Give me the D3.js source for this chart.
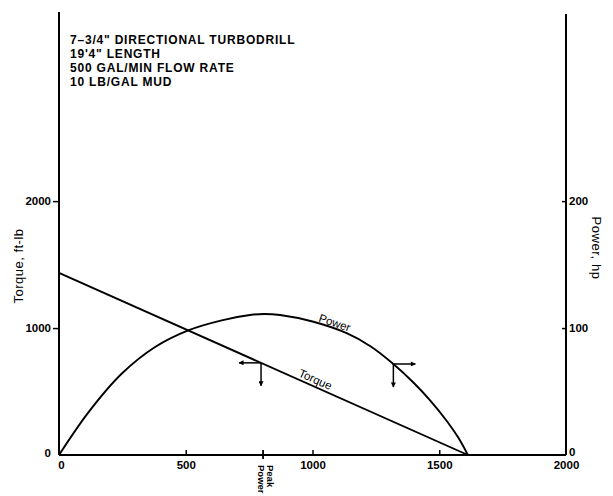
<!DOCTYPE html>
<html>
<head>
<meta charset="utf-8">
<script src="https://cdn.jsdelivr.net/npm/d3@7"></script>
<style>
  html, body { margin: 0; padding: 0; background: #fff; }
  svg { display: block; font-family: "Liberation Sans", Arial, sans-serif; }
</style>
</head>
<body>
<svg id="chart" width="613" height="496"></svg>
<script>
// ---- data ----
const rpmTicks = [0, 500, 1000, 1500, 2000];
const torqueTicks = [0, 1000, 2000];
const powerTicks = [0, 100, 200];

const torqueRpm = [0, 1613];
const torqueVals = [1435, 0];

const powerRpm  = [0, 116, 247, 379, 510, 642, 760, 810, 872, 1000, 1135, 1230, 1319, 1400, 1463, 1529, 1575, 1613];
const powerVals = [0, 33.6, 64.0, 85.1, 98.2, 106.1, 110.5, 111.1, 110.3, 105.2, 96.0, 85.5, 71.7, 56.7, 43.2, 27.0, 13.7, 0];

const titleLines = [
  "7\u20133/4\" DIRECTIONAL TURBODRILL",
  "19'4\" LENGTH",
  "500 GAL/MIN FLOW RATE",
  "10 LB/GAL MUD"
];
const peakPowerRpm = 805;
const torqueMarkerRpm = 797;   // marker on torque line
const powerMarkerRpm = 1319;   // marker on power curve
const torqueLabelRpm = 1000;
const powerLabelRpm = 1080;

// ---- scales ----
const svg = d3.select("#chart");
const x = d3.scaleLinear().domain([0, 2000]).range([59, 566]);
const yT = d3.scaleLinear().domain([0, 3490]).range([455, 12]);
const yP = d3.scaleLinear().domain([0, 349]).range([455, 12]);

const ink = "#000";

// arrow marker
const defs = svg.append("defs");
defs.append("marker")
  .attr("id", "arr")
  .attr("viewBox", "0 0 10 10")
  .attr("refX", 9).attr("refY", 5)
  .attr("markerWidth", 7).attr("markerHeight", 5)
  .attr("markerUnits", "userSpaceOnUse")
  .attr("orient", "auto")
  .append("path").attr("d", "M0,0 L10,5 L0,10 Z").attr("fill", ink);

// ---- axes ----
const xAxis = d3.axisBottom(x).tickValues(rpmTicks).tickSizeInner(-5).tickSizeOuter(0).tickPadding(6).tickFormat(d3.format("d"));
const gx = svg.append("g").attr("transform", "translate(0,455)").call(xAxis);
gx.select(".domain").remove();
gx.selectAll(".tick line").attr("stroke", ink).attr("stroke-width", 1.5)
  .filter(d => d === 0 || d === 2000).remove();
gx.selectAll(".tick text").attr("font-size", 11.5).attr("font-weight", "bold").attr("fill", ink)
  .attr("dx", d => d === 0 ? 2 : 0);

const yAxisL = d3.axisLeft(yT).tickValues(torqueTicks).tickSizeInner(6).tickSizeOuter(0).tickPadding(2).tickFormat(d3.format("d"));
const gyl = svg.append("g").attr("transform", "translate(59,0)").call(yAxisL);
gyl.select(".domain").remove();
gyl.selectAll(".tick line").attr("stroke", ink).attr("stroke-width", 1.5).filter(d => d === 0).remove();
gyl.selectAll(".tick text").attr("font-size", 11.5).attr("font-weight", "bold").attr("fill", ink)
  .attr("dy", d => d === 0 ? "0.15em" : "0.32em");

const yAxisR = d3.axisRight(yP).tickValues(powerTicks).tickSizeInner(-4).tickSizeOuter(0).tickPadding(3).tickFormat(d3.format("d"));
const gyr = svg.append("g").attr("transform", "translate(566,0)").call(yAxisR);
gyr.select(".domain").remove();
gyr.selectAll(".tick line").attr("stroke", ink).attr("stroke-width", 1.5).filter(d => d === 0).remove();
gyr.selectAll(".tick text").attr("font-size", 11.5).attr("font-weight", "bold").attr("fill", ink)
  .attr("dy", d => d === 0 ? "0.05em" : "0.32em");

// axis lines
svg.append("line").attr("x1", x(0)).attr("x2", x(2000)).attr("y1", yT(0)).attr("y2", yT(0))
  .attr("stroke", ink).attr("stroke-width", 2.2);
svg.append("line").attr("x1", x(0)).attr("x2", x(0)).attr("y1", yT(0)).attr("y2", yT(3490))
  .attr("stroke", ink).attr("stroke-width", 2);
svg.append("line").attr("x1", x(2000)).attr("x2", x(2000)).attr("y1", yT(0)).attr("y2", yT(3475))
  .attr("stroke", ink).attr("stroke-width", 2);

// peak power tick
svg.append("line").attr("x1", x(peakPowerRpm)).attr("x2", x(peakPowerRpm))
  .attr("y1", yT(0) - 5).attr("y2", yT(0) + 4).attr("stroke", ink).attr("stroke-width", 1.8);
const pp = svg.append("text")
  .attr("transform", `translate(${x(peakPowerRpm) + 4},465) rotate(90)`)
  .attr("font-size", 9.5).attr("font-weight", "bold").attr("fill", ink);
pp.append("tspan").attr("x", 0).attr("y", 0).text("Peak");
pp.append("tspan").attr("x", 0).attr("y", 9).text("Power");

// axis titles
svg.append("text").attr("transform", "translate(23,266) rotate(-90)")
  .attr("text-anchor", "middle").attr("font-size", 13).attr("letter-spacing", 0.5).attr("fill", ink).text("Torque, ft-lb");
svg.append("text").attr("transform", "translate(592,248) rotate(90)")
  .attr("text-anchor", "middle").attr("font-size", 13).attr("letter-spacing", 0.6).attr("fill", ink).text("Power, hp");

// ---- curves ----
const torquePts = torqueRpm.map((r, i) => [r, torqueVals[i]]);
const powerPts = powerRpm.map((r, i) => [r, powerVals[i]]);

svg.append("path").datum(torquePts)
  .attr("d", d3.line().x(d => x(d[0])).y(d => yT(d[1])))
  .attr("fill", "none").attr("stroke", ink).attr("stroke-width", 1.9);

const powerLine = d3.line().x(d => x(d[0])).y(d => yP(d[1])).curve(d3.curveCatmullRom.alpha(0.5));
svg.append("path").datum(powerPts)
  .attr("d", powerLine)
  .attr("fill", "none").attr("stroke", ink).attr("stroke-width", 1.9);

// ---- curve labels ----
const torqueAt = r => d3.scaleLinear().domain(torqueRpm).range(torqueVals)(r);
const powerAt = r => d3.scaleLinear().domain(powerRpm).range(powerVals)(r);

{
  const x0 = x(torqueLabelRpm), y0 = yT(torqueAt(torqueLabelRpm));
  const ang = Math.atan2(yT(torqueVals[1]) - yT(torqueVals[0]), x(torqueRpm[1]) - x(torqueRpm[0])) * 180 / Math.PI;
  svg.append("text").attr("transform", `translate(${x0},${y0}) rotate(${ang})`)
    .attr("dy", -3).attr("text-anchor", "middle").attr("font-size", 11.5)
    .attr("fill", ink).text("Torque");
}
{
  const r1 = powerLabelRpm - 40, r2 = powerLabelRpm + 40;
  const x0 = x(powerLabelRpm), y0 = yP(powerAt(powerLabelRpm));
  const ang = Math.atan2(yP(powerAt(r2)) - yP(powerAt(r1)), x(r2) - x(r1)) * 180 / Math.PI;
  svg.append("text").attr("transform", `translate(${x0},${y0}) rotate(${ang})`)
    .attr("dy", -2).attr("text-anchor", "middle").attr("font-size", 11.5)
    .attr("fill", ink).text("Power");
}

// ---- markers ----
function marker(px, py, dir) {
  svg.append("line").attr("x1", px).attr("y1", py).attr("x2", px + dir * 22).attr("y2", py)
    .attr("stroke", ink).attr("stroke-width", 1.5).attr("marker-end", "url(#arr)");
  svg.append("line").attr("x1", px).attr("y1", py).attr("x2", px).attr("y2", py + 23)
    .attr("stroke", ink).attr("stroke-width", 1.5).attr("marker-end", "url(#arr)");
}
marker(x(torqueMarkerRpm), yT(torqueAt(torqueMarkerRpm)), -1);
marker(x(powerMarkerRpm), yP(powerAt(powerMarkerRpm)), 1);

// ---- title block ----
const tt = svg.append("text").attr("font-size", 12).attr("font-weight", "bold")
  .attr("letter-spacing", 0.8).attr("fill", ink);
titleLines.forEach((t, i) => {
  tt.append("tspan").attr("x", 70).attr("y", 44 + i * 14).text(t);
});
</script>
</body>
</html>
